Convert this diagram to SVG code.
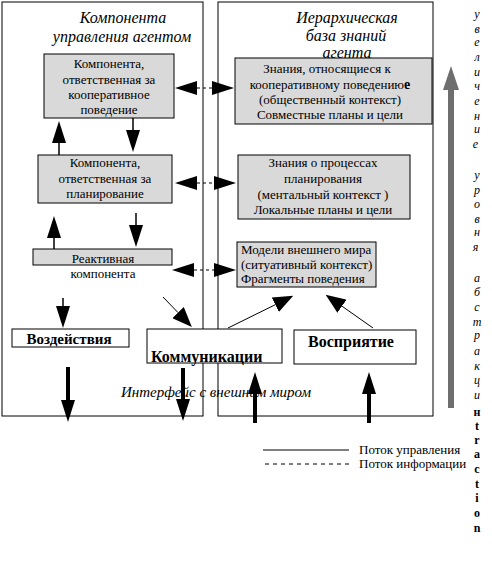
<svg xmlns="http://www.w3.org/2000/svg" width="492" height="565" viewBox="0 0 492 565">
<style>
text{font-family:"Liberation Serif","Times New Roman",serif;fill:#000}
.head{font-size:16px;font-style:italic;text-anchor:middle}
.bt{font-size:13px;text-anchor:middle}
.bl{font-size:13px}
.bold{font-weight:bold}
.box{fill:#d9d9d9;stroke:#000;stroke-width:1}
.wbox{fill:#fff;stroke:#000;stroke-width:1}
.panel{fill:none;stroke:#000;stroke-width:1}
.thin{stroke:#000;stroke-width:1.5;fill:none}
.diag{stroke:#000;stroke-width:1;fill:none}
.thick{stroke:#000;stroke-width:4;fill:none}
.dash{stroke:#000;stroke-width:1;stroke-dasharray:3 3;fill:none}
.vt{font-size:12px;text-anchor:middle}
</style>
<defs>
<marker id="ah" markerUnits="userSpaceOnUse" markerWidth="22" markerHeight="14" refX="0" refY="7" orient="auto-start-reverse" viewBox="0 0 22 14">
<path d="M0,0 L22,7 L0,14 z" fill="#000"/>
</marker>
<marker id="ahd" markerUnits="userSpaceOnUse" markerWidth="20" markerHeight="16" refX="0" refY="8" orient="auto" viewBox="0 0 20 16">
<path d="M0,0 L20,8 L0,16 z" fill="#000"/>
</marker>
</defs>
<rect width="492" height="565" fill="#fff"/>

<g id="panels">
<rect class="panel" x="2" y="2" width="201" height="414"/>
<rect class="panel" x="218" y="2" width="215" height="414"/>
<text class="head" x="123" y="23">Компонента</text>
<text class="head" x="122" y="42">управления агентом</text>
<text class="head" x="347" y="23">Иерархическая</text>
<text class="head" x="346" y="41">база знаний</text>
<text class="head" x="347" y="58">агента</text>
<text x="216" y="397" style="font-size:15px;font-style:italic;text-anchor:middle">Интерфейс с внешним миром</text>
</g>

<g id="coop-component">
<rect class="box" x="44" y="54" width="130" height="64"/>
<text class="bt" x="109" y="68">Компонента,</text>
<text class="bt" x="109" y="84">ответственная за</text>
<text class="bt" x="109" y="99">кооперативное</text>
<text class="bt" x="109" y="114">поведение</text>
</g>

<g id="coop-knowledge">
<rect class="box" x="235" y="58" width="197" height="66"/>
<text class="bt" x="327" y="73">Знания, относящиеся к</text>
<text class="bt" x="330" y="89">кооперативному поведению<tspan style="font-weight:bold;font-size:14px">е</tspan></text>
<text class="bt" x="330" y="104">(общественный контекст)</text>
<text class="bt" x="330" y="119">Совместные планы и цели</text>
</g>

<g id="plan-component">
<rect class="box" x="38" y="155" width="134" height="48"/>
<text class="bt" x="105" y="167">Компонента,</text>
<text class="bt" x="105" y="183">ответственная за</text>
<text class="bt" x="105" y="198">планирование</text>
</g>

<g id="plan-knowledge">
<rect class="box" x="238" y="155" width="172" height="64"/>
<text class="bt" x="323" y="167">Знания о процессах</text>
<text class="bt" x="323" y="183">планирования</text>
<text class="bt" x="323" y="199">(ментальный контекст )</text>
<text class="bt" x="323" y="214">Локальные планы и цели</text>
</g>

<g id="reactive-component">
<rect class="box" x="33" y="249" width="139" height="16"/>
<text class="bt" x="103" y="263">Реактивная</text>
<text class="bt" x="103" y="278">компонента</text>
</g>

<g id="world-models">
<rect class="box" x="237" y="242" width="139" height="45"/>
<text class="bl" x="241" y="254">Модели внешнего мира</text>
<text class="bl" x="241" y="269"> (ситуативный контекст)</text>
<text class="bl" x="241" y="283">Фрагменты поведения</text>
</g>

<g id="actions">
<rect class="wbox" x="12" y="329" width="117" height="18"/>
<text class="bold" x="69" y="344" style="font-size:15px;text-anchor:middle">Воздействия</text>
</g>

<g id="communications">
<rect class="wbox" x="147" y="329" width="135" height="34"/>
<text class="bold" x="151" y="362" style="font-size:16px">Коммуникации</text>
</g>

<g id="perception">
<rect class="wbox" x="294" y="330" width="122" height="34"/>
<text class="bold" x="351" y="347" style="font-size:16px;text-anchor:middle">Восприятие</text>
</g>

<g id="connectors">
<line class="thin" x1="59" y1="155" x2="59" y2="143" marker-end="url(#ah)"/>
<line class="thin" x1="133" y1="118" x2="133" y2="130" marker-end="url(#ah)"/>
<line class="thin" x1="54" y1="249" x2="54" y2="238" marker-end="url(#ah)"/>
<line class="thin" x1="136" y1="213" x2="136" y2="225" marker-end="url(#ah)"/>
<line class="thin" x1="63" y1="298" x2="63" y2="306" marker-end="url(#ah)"/>
<line class="dash" x1="197" y1="88" x2="212" y2="88" marker-start="url(#ah)" marker-end="url(#ah)"/>
<line class="dash" x1="197" y1="183" x2="214" y2="183" marker-start="url(#ah)" marker-end="url(#ah)"/>
<line class="dash" x1="194" y1="270" x2="214" y2="270" marker-start="url(#ah)" marker-end="url(#ah)"/>
<line class="diag" x1="163" y1="297" x2="178" y2="312.6" marker-end="url(#ahd)"/>
<line class="diag" x1="228" y1="328" x2="275.3" y2="304.7" marker-end="url(#ahd)"/>
<line class="diag" x1="373" y1="328" x2="342" y2="306.2" marker-end="url(#ahd)"/>
<line class="thick" x1="68" y1="367" x2="68" y2="400" marker-end="url(#ah)"/>
<line class="thick" x1="183" y1="368" x2="183" y2="399" marker-end="url(#ah)"/>
<line class="thick" x1="255" y1="423" x2="255" y2="394" marker-end="url(#ah)"/>
<line class="thick" x1="369" y1="423" x2="369" y2="394" marker-end="url(#ah)"/>
</g>

<g id="abstraction-arrow">
<line x1="451" y1="408" x2="451" y2="89" stroke="#6e6e6e" stroke-width="6"/>
<polygon points="443,90 451,66 459,90" fill="#6e6e6e"/>
<text class="vt" style="font-style:italic">
<tspan x="477" y="18">у</tspan><tspan x="477" y="33">в</tspan><tspan x="477" y="46">е</tspan><tspan x="477" y="61">л</tspan><tspan x="477" y="76">и</tspan><tspan x="477" y="90">ч</tspan><tspan x="477" y="105">е</tspan><tspan x="477" y="120">н</tspan><tspan x="477" y="133">и</tspan><tspan x="477" y="148">е</tspan>
<tspan x="477" y="179">у</tspan><tspan x="477" y="194">р</tspan><tspan x="477" y="208">о</tspan><tspan x="477" y="223">в</tspan><tspan x="477" y="236">н</tspan><tspan x="477" y="251">я</tspan>
<tspan x="477" y="282">а</tspan><tspan x="477" y="296">б</tspan><tspan x="477" y="311">с</tspan><tspan x="477" y="326">т</tspan><tspan x="477" y="339">р</tspan><tspan x="477" y="355">а</tspan><tspan x="477" y="370">к</tspan><tspan x="477" y="384">ц</tspan><tspan x="477" y="399">и</tspan>
</text>
<text class="vt bold">
<tspan x="477" y="416">н</tspan><tspan x="477" y="430">t</tspan><tspan x="477" y="444">r</tspan><tspan x="477" y="458">a</tspan><tspan x="477" y="473">c</tspan><tspan x="477" y="488">t</tspan><tspan x="477" y="502">i</tspan><tspan x="477" y="517">o</tspan><tspan x="477" y="532">n</tspan>
</text>
</g>

<g id="legend">
<line x1="263" y1="450" x2="349" y2="450" stroke="#000" stroke-width="1"/>
<text x="359" y="454" style="font-size:13px">Поток управления</text>
<line x1="265" y1="464" x2="353" y2="464" stroke="#000" stroke-width="1" stroke-dasharray="4 4"/>
<text x="359" y="468" style="font-size:13px">Поток информации</text>
</g>
</svg>
